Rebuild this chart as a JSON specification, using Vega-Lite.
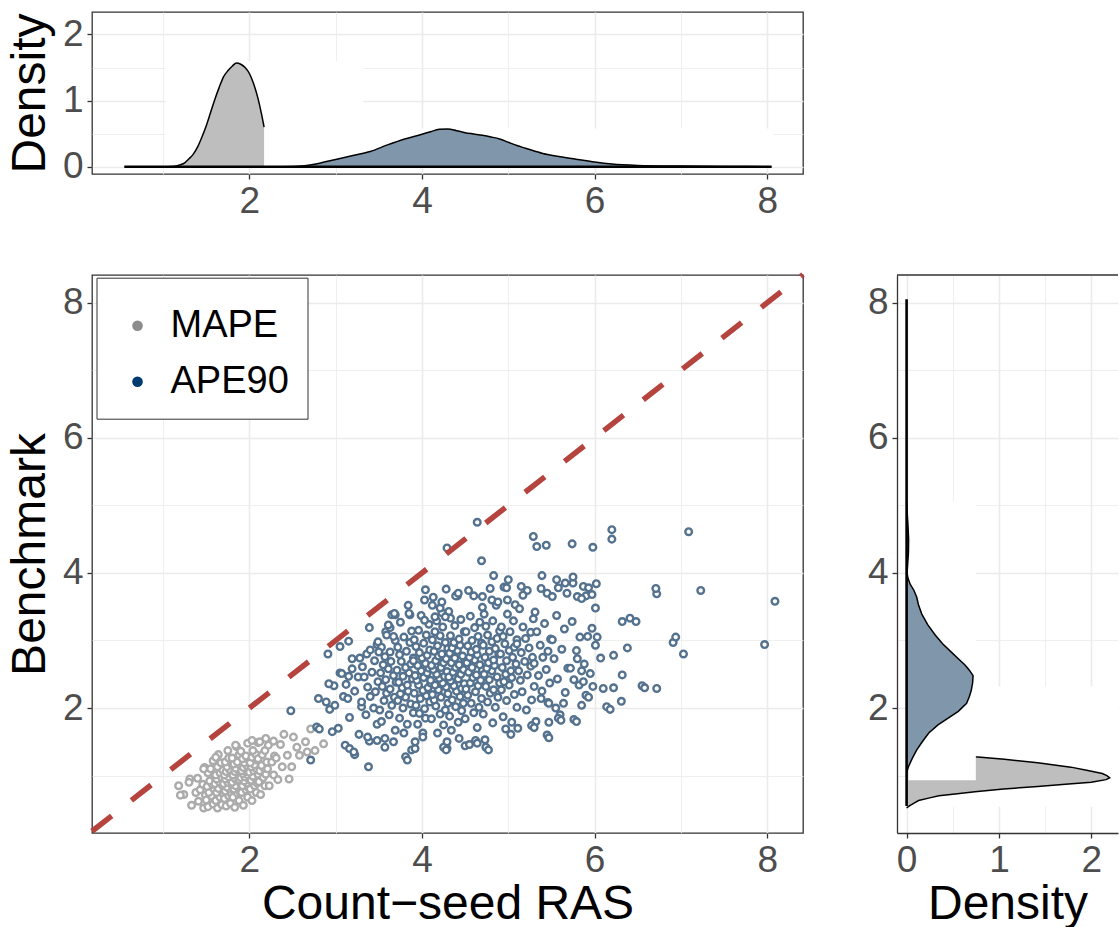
{
"$schema":"https://vega.github.io/schema/vega-lite/v6.json",
"padding":{"left":5,"top":11,"right":0,"bottom":0},
"bounds":"flush",
"columns":2,
"spacing":{"row":101,"column":94},
"resolve":{"scale":{"x":"independent","y":"independent","fill":"independent","stroke":"independent"},"legend":{"fill":"independent","stroke":"independent"}},
"config":{
 "font":"Liberation Sans",
 "view":{"stroke":"#333333","strokeWidth":1.3},
 "axis":{"domain":false,"grid":true,"gridColor":"#EBEBEB","tickColor":"#333333","tickSize":5,"tickWidth":1.3,"labelColor":"#4D4D4D","labelFont":"Liberation Sans","labelFontSize":37,"labelPadding":4,"labelFlush":false,"labelOverlap":false,"titleFont":"Liberation Sans","titleFontSize":48,"titleFontWeight":"normal","titleColor":"#000000","titlePadding":2},
 "axisY":{"titlePadding":8}
},
"datasets":{
 "topGray":[{"x":1.05,"d":0},{"x":1.1,"d":0.003},{"x":1.15,"d":0.01},{"x":1.2,"d":0.03},{"x":1.25,"d":0.06},{"x":1.3,"d":0.12},{"x":1.35,"d":0.19},{"x":1.4,"d":0.3},{"x":1.45,"d":0.45},{"x":1.5,"d":0.62},{"x":1.55,"d":0.82},{"x":1.6,"d":1.02},{"x":1.65,"d":1.2},{"x":1.7,"d":1.36},{"x":1.75,"d":1.45},{"x":1.8,"d":1.52},{"x":1.85,"d":1.57},{"x":1.9,"d":1.55},{"x":1.95,"d":1.5},{"x":2.0,"d":1.41},{"x":2.05,"d":1.25},{"x":2.1,"d":1.03},{"x":2.14,"d":0.8},{"x":2.17,"d":0.6}],
 "topBlue":[{"x":2.4,"d":0},{"x":2.6,"d":0.01},{"x":2.8,"d":0.05},{"x":3.0,"d":0.11},{"x":3.2,"d":0.17},{"x":3.4,"d":0.23},{"x":3.6,"d":0.33},{"x":3.8,"d":0.42},{"x":4.0,"d":0.49},{"x":4.1,"d":0.53},{"x":4.2,"d":0.565},{"x":4.3,"d":0.57},{"x":4.4,"d":0.545},{"x":4.5,"d":0.515},{"x":4.6,"d":0.495},{"x":4.7,"d":0.475},{"x":4.8,"d":0.45},{"x":4.9,"d":0.42},{"x":5.0,"d":0.37},{"x":5.1,"d":0.32},{"x":5.2,"d":0.28},{"x":5.4,"d":0.2},{"x":5.6,"d":0.15},{"x":5.8,"d":0.11},{"x":6.0,"d":0.07},{"x":6.2,"d":0.04},{"x":6.5,"d":0.02},{"x":7.0,"d":0.01},{"x":7.5,"d":0.005},{"x":8.05,"d":0}],
 "topRect":[{"x":1.03,"x2":3.32,"d":0.02,"d2":1.6},{"x":3.32,"x2":8.08,"d":0.02,"d2":0.58}],
 "topBase":[{"x":0.55,"x2":8.05,"d":0}],
 "rightGray":[{"y":0.52,"d":0},{"y":0.55,"d":0.03},{"y":0.6,"d":0.09},{"y":0.63,"d":0.13},{"y":0.67,"d":0.25},{"y":0.7,"d":0.35},{"y":0.73,"d":0.55},{"y":0.76,"d":0.74},{"y":0.8,"d":1.05},{"y":0.84,"d":1.42},{"y":0.87,"d":1.72},{"y":0.9,"d":2.0},{"y":0.94,"d":2.16},{"y":0.967,"d":2.2},{"y":1.0,"d":2.17},{"y":1.03,"d":2.12},{"y":1.08,"d":1.95},{"y":1.125,"d":1.78},{"y":1.19,"d":1.42},{"y":1.24,"d":1.06},{"y":1.28,"d":0.74},{"y":1.35,"d":0.45},{"y":1.45,"d":0.22},{"y":1.55,"d":0.09},{"y":1.65,"d":0.03},{"y":1.75,"d":0}],
 "rightBlue":[{"y":1.05,"d":0},{"y":1.13,"d":0.02},{"y":1.25,"d":0.06},{"y":1.38,"d":0.11},{"y":1.5,"d":0.17},{"y":1.63,"d":0.24},{"y":1.75,"d":0.34},{"y":1.85,"d":0.45},{"y":1.95,"d":0.56},{"y":2.07,"d":0.65},{"y":2.17,"d":0.68},{"y":2.26,"d":0.7},{"y":2.37,"d":0.715},{"y":2.48,"d":0.72},{"y":2.56,"d":0.68},{"y":2.64,"d":0.63},{"y":2.73,"d":0.56},{"y":2.82,"d":0.49},{"y":2.95,"d":0.39},{"y":3.08,"d":0.31},{"y":3.23,"d":0.23},{"y":3.39,"d":0.165},{"y":3.52,"d":0.13},{"y":3.64,"d":0.11},{"y":3.74,"d":0.08},{"y":3.83,"d":0.04},{"y":3.92,"d":0.015},{"y":4.0,"d":0.005},{"y":4.1,"d":0.01},{"y":4.3,"d":0.02},{"y":4.5,"d":0.022},{"y":4.7,"d":0.015},{"y":4.9,"d":0.006},{"y":5.05,"d":0}],
 "rightRectUnder":[{"d":0.02,"d2":2.29,"y":0.54,"y2":2.32},{"d":0.02,"d2":0.75,"y":2.32,"y2":5.06}],
 "rightRectOver":[{"d":0.02,"d2":0.75,"y":0.93,"y2":5.06}],
 "rightBase":[{"d":0,"y":0.55,"y2":8.05}],
 "rightTop":[{"d":-0.104,"d2":2.29,"y":8.41}],
 "diag":[{"x":0.176,"y":0.176},{"x":8.415,"y":8.415}],
 "gray":[{"x":1.24,"y":0.72},{"x":1.33,"y":0.56},{"x":1.38,"y":0.75},{"x":1.31,"y":0.95},
{"x":1.47,"y":0.52},{"x":1.41,"y":0.62},{"x":1.49,"y":0.71},{"x":1.43,"y":0.79},{"x":1.46,"y":0.87},{"x":1.40,"y":0.96},{"x":1.48,"y":1.12},
{"x":1.52,"y":0.54},{"x":1.58,"y":0.58},{"x":1.50,"y":0.64},{"x":1.56,"y":0.70},{"x":1.53,"y":0.75},{"x":1.59,"y":0.80},{"x":1.51,"y":0.84},{"x":1.57,"y":0.87},{"x":1.54,"y":0.92},{"x":1.60,"y":0.97},{"x":1.52,"y":1.04},{"x":1.55,"y":1.10},{"x":1.58,"y":1.22},
{"x":1.63,"y":0.52},{"x":1.68,"y":0.57},{"x":1.61,"y":0.63},{"x":1.66,"y":0.68},{"x":1.70,"y":0.72},{"x":1.62,"y":0.75},{"x":1.67,"y":0.79},{"x":1.64,"y":0.81},{"x":1.69,"y":0.85},{"x":1.60,"y":0.88},{"x":1.65,"y":0.91},{"x":1.62,"y":0.95},{"x":1.68,"y":0.97},{"x":1.61,"y":1.01},{"x":1.66,"y":1.04},{"x":1.69,"y":1.08},{"x":1.63,"y":1.13},{"x":1.67,"y":1.19},{"x":1.64,"y":1.31},
{"x":1.73,"y":0.55},{"x":1.78,"y":0.59},{"x":1.71,"y":0.66},{"x":1.76,"y":0.70},{"x":1.79,"y":0.73},{"x":1.72,"y":0.77},{"x":1.77,"y":0.80},{"x":1.74,"y":0.83},{"x":1.80,"y":0.85},{"x":1.70,"y":0.88},{"x":1.75,"y":0.90},{"x":1.78,"y":0.93},{"x":1.72,"y":0.95},{"x":1.76,"y":0.98},{"x":1.71,"y":1.01},{"x":1.79,"y":1.03},{"x":1.73,"y":1.06},{"x":1.77,"y":1.09},{"x":1.74,"y":1.13},{"x":1.80,"y":1.16},{"x":1.72,"y":1.20},{"x":1.76,"y":1.26},{"x":1.75,"y":1.37},
{"x":1.83,"y":0.53},{"x":1.88,"y":0.63},{"x":1.81,"y":0.68},{"x":1.86,"y":0.74},{"x":1.89,"y":0.76},{"x":1.82,"y":0.80},{"x":1.87,"y":0.83},{"x":1.84,"y":0.85},{"x":1.90,"y":0.88},{"x":1.80,"y":0.90},{"x":1.85,"y":0.93},{"x":1.88,"y":0.94},{"x":1.82,"y":0.97},{"x":1.86,"y":1.00},{"x":1.81,"y":1.01},{"x":1.89,"y":1.04},{"x":1.83,"y":1.06},{"x":1.87,"y":1.09},{"x":1.84,"y":1.11},{"x":1.90,"y":1.14},{"x":1.82,"y":1.17},{"x":1.86,"y":1.20},{"x":1.80,"y":1.26},{"x":1.88,"y":1.31},{"x":1.85,"y":1.43},
{"x":1.93,"y":0.56},{"x":1.98,"y":0.68},{"x":1.91,"y":0.75},{"x":1.96,"y":0.79},{"x":1.99,"y":0.82},{"x":1.92,"y":0.85},{"x":1.97,"y":0.89},{"x":1.94,"y":0.92},{"x":2.00,"y":0.94},{"x":1.90,"y":0.97},{"x":1.95,"y":0.98},{"x":1.98,"y":1.01},{"x":1.92,"y":1.03},{"x":1.96,"y":1.06},{"x":1.91,"y":1.07},{"x":1.99,"y":1.10},{"x":1.93,"y":1.12},{"x":1.97,"y":1.15},{"x":1.94,"y":1.19},{"x":2.00,"y":1.22},{"x":1.92,"y":1.25},{"x":1.96,"y":1.29},{"x":1.90,"y":1.36},{"x":1.98,"y":1.48},
{"x":2.03,"y":0.63},{"x":2.08,"y":0.75},{"x":2.01,"y":0.80},{"x":2.06,"y":0.85},{"x":2.09,"y":0.89},{"x":2.02,"y":0.93},{"x":2.07,"y":0.96},{"x":2.04,"y":0.99},{"x":2.10,"y":1.02},{"x":2.00,"y":1.05},{"x":2.05,"y":1.07},{"x":2.08,"y":1.10},{"x":2.02,"y":1.13},{"x":2.06,"y":1.16},{"x":2.01,"y":1.19},{"x":2.09,"y":1.23},{"x":2.03,"y":1.27},{"x":2.07,"y":1.32},{"x":2.04,"y":1.37},{"x":2.10,"y":1.49},
{"x":2.13,"y":0.72},{"x":2.18,"y":0.85},{"x":2.11,"y":0.91},{"x":2.16,"y":0.97},{"x":2.19,"y":1.02},{"x":2.12,"y":1.07},{"x":2.17,"y":1.11},{"x":2.14,"y":1.15},{"x":2.20,"y":1.20},{"x":2.10,"y":1.25},{"x":2.15,"y":1.31},{"x":2.18,"y":1.37},{"x":2.12,"y":1.50},
{"x":2.23,"y":0.85},{"x":2.28,"y":1.01},{"x":2.21,"y":1.10},{"x":2.26,"y":1.20},{"x":2.29,"y":1.29},{"x":2.22,"y":1.45},
{"x":2.33,"y":0.94},{"x":2.38,"y":1.13},{"x":2.31,"y":1.26},{"x":2.36,"y":1.46},
{"x":1.18,"y":0.85},{"x":1.20,"y":0.71},{"x":1.30,"y":0.90},{"x":1.47,"y":1.10},{"x":1.61,"y":1.27},{"x":1.84,"y":1.45},{"x":2.03,"y":1.52},{"x":2.19,"y":1.55},{"x":2.28,"y":1.51},{"x":2.40,"y":1.61},{"x":2.51,"y":1.57},{"x":2.46,"y":0.95},{"x":2.49,"y":1.13},{"x":2.58,"y":1.30},{"x":2.65,"y":1.50},{"x":2.67,"y":1.35},{"x":2.71,"y":1.69},{"x":2.76,"y":1.37},{"x":2.86,"y":1.47},{"x":2.55,"y":1.42},{"x":2.44,"y":1.30}],
 "blue":[{"x":3.03,"y":1.70},{"x":2.93,"y":1.98},{"x":3.09,"y":2.17},{"x":2.98,"y":2.33},{"x":3.05,"y":2.52},{"x":2.91,"y":2.80},
{"x":3.27,"y":1.61},{"x":3.16,"y":1.86},{"x":3.30,"y":2.02},{"x":3.14,"y":2.14},{"x":3.22,"y":2.25},{"x":3.12,"y":2.35},{"x":3.26,"y":2.46},{"x":3.19,"y":2.58},{"x":3.28,"y":2.74},{"x":3.15,"y":2.99},
{"x":3.39,"y":1.51},{"x":3.48,"y":1.76},{"x":3.35,"y":1.90},{"x":3.44,"y":2.00},{"x":3.30,"y":2.09},{"x":3.40,"y":2.17},{"x":3.46,"y":2.24},{"x":3.37,"y":2.31},{"x":3.49,"y":2.39},{"x":3.33,"y":2.46},{"x":3.42,"y":2.53},{"x":3.31,"y":2.61},{"x":3.45,"y":2.70},{"x":3.36,"y":2.80},{"x":3.48,"y":2.94},{"x":3.39,"y":3.19},
{"x":3.57,"y":1.42},{"x":3.69,"y":1.67},{"x":3.53,"y":1.80},{"x":3.62,"y":1.90},{"x":3.51,"y":1.97},{"x":3.65,"y":2.04},{"x":3.56,"y":2.11},{"x":3.68,"y":2.16},{"x":3.59,"y":2.22},{"x":3.63,"y":2.28},{"x":3.54,"y":2.32},{"x":3.70,"y":2.38},{"x":3.58,"y":2.42},{"x":3.67,"y":2.48},{"x":3.52,"y":2.52},{"x":3.61,"y":2.58},{"x":3.55,"y":2.64},{"x":3.64,"y":2.69},{"x":3.57,"y":2.76},{"x":3.63,"y":2.83},{"x":3.53,"y":2.90},{"x":3.69,"y":3.00},{"x":3.58,"y":3.13},{"x":3.65,"y":3.38},
{"x":3.88,"y":1.38},{"x":3.79,"y":1.63},{"x":3.83,"y":1.76},{"x":3.74,"y":1.85},{"x":3.90,"y":1.93},{"x":3.78,"y":2.00},{"x":3.87,"y":2.06},{"x":3.72,"y":2.11},{"x":3.81,"y":2.16},{"x":3.75,"y":2.21},{"x":3.84,"y":2.25},{"x":3.77,"y":2.30},{"x":3.83,"y":2.34},{"x":3.73,"y":2.38},{"x":3.89,"y":2.43},{"x":3.78,"y":2.47},{"x":3.85,"y":2.52},{"x":3.71,"y":2.56},{"x":3.81,"y":2.60},{"x":3.87,"y":2.65},{"x":3.76,"y":2.69},{"x":3.90,"y":2.74},{"x":3.74,"y":2.79},{"x":3.82,"y":2.84},{"x":3.72,"y":2.90},{"x":3.86,"y":2.97},{"x":3.79,"y":3.05},{"x":3.88,"y":3.14},{"x":3.75,"y":3.27},{"x":3.84,"y":3.52},
{"x":3.92,"y":1.40},{"x":4.01,"y":1.63},{"x":3.95,"y":1.76},{"x":4.04,"y":1.85},{"x":3.97,"y":1.92},{"x":4.03,"y":1.99},{"x":3.93,"y":2.04},{"x":4.09,"y":2.09},{"x":3.98,"y":2.14},{"x":4.05,"y":2.18},{"x":3.91,"y":2.22},{"x":4.01,"y":2.26},{"x":4.07,"y":2.30},{"x":3.96,"y":2.34},{"x":4.10,"y":2.37},{"x":3.94,"y":2.41},{"x":4.02,"y":2.45},{"x":3.92,"y":2.48},{"x":4.06,"y":2.52},{"x":3.99,"y":2.55},{"x":4.08,"y":2.59},{"x":3.95,"y":2.63},{"x":4.04,"y":2.66},{"x":3.90,"y":2.70},{"x":4.00,"y":2.74},{"x":4.06,"y":2.78},{"x":3.97,"y":2.82},{"x":4.09,"y":2.86},{"x":3.93,"y":2.91},{"x":4.02,"y":2.96},{"x":3.91,"y":3.01},{"x":4.05,"y":3.08},{"x":3.96,"y":3.15},{"x":4.08,"y":3.24},{"x":3.99,"y":3.37},{"x":4.03,"y":3.60},
{"x":4.29,"y":1.40},{"x":4.18,"y":1.63},{"x":4.25,"y":1.75},{"x":4.11,"y":1.84},{"x":4.21,"y":1.91},{"x":4.27,"y":1.97},{"x":4.16,"y":2.03},{"x":4.30,"y":2.07},{"x":4.14,"y":2.12},{"x":4.22,"y":2.16},{"x":4.12,"y":2.20},{"x":4.26,"y":2.24},{"x":4.19,"y":2.27},{"x":4.28,"y":2.31},{"x":4.15,"y":2.34},{"x":4.24,"y":2.37},{"x":4.10,"y":2.41},{"x":4.20,"y":2.44},{"x":4.26,"y":2.47},{"x":4.17,"y":2.50},{"x":4.29,"y":2.54},{"x":4.13,"y":2.57},{"x":4.22,"y":2.60},{"x":4.11,"y":2.63},{"x":4.25,"y":2.67},{"x":4.16,"y":2.70},{"x":4.28,"y":2.73},{"x":4.19,"y":2.77},{"x":4.23,"y":2.80},{"x":4.14,"y":2.84},{"x":4.30,"y":2.88},{"x":4.18,"y":2.92},{"x":4.27,"y":2.97},{"x":4.12,"y":3.01},{"x":4.21,"y":3.07},{"x":4.15,"y":3.13},{"x":4.24,"y":3.20},{"x":4.17,"y":3.29},{"x":4.23,"y":3.41},{"x":4.13,"y":3.64},
{"x":4.50,"y":1.44},{"x":4.34,"y":1.67},{"x":4.42,"y":1.79},{"x":4.32,"y":1.88},{"x":4.46,"y":1.96},{"x":4.39,"y":2.02},{"x":4.48,"y":2.07},{"x":4.35,"y":2.12},{"x":4.44,"y":2.17},{"x":4.30,"y":2.21},{"x":4.40,"y":2.25},{"x":4.46,"y":2.29},{"x":4.37,"y":2.33},{"x":4.49,"y":2.36},{"x":4.33,"y":2.40},{"x":4.42,"y":2.43},{"x":4.31,"y":2.46},{"x":4.45,"y":2.50},{"x":4.36,"y":2.53},{"x":4.48,"y":2.57},{"x":4.39,"y":2.60},{"x":4.43,"y":2.64},{"x":4.34,"y":2.67},{"x":4.50,"y":2.70},{"x":4.38,"y":2.74},{"x":4.47,"y":2.77},{"x":4.32,"y":2.81},{"x":4.41,"y":2.85},{"x":4.35,"y":2.89},{"x":4.44,"y":2.93},{"x":4.37,"y":2.97},{"x":4.43,"y":3.02},{"x":4.33,"y":3.07},{"x":4.49,"y":3.13},{"x":4.38,"y":3.22},{"x":4.45,"y":3.31},{"x":4.31,"y":3.43},{"x":4.41,"y":3.66},
{"x":4.55,"y":1.46},{"x":4.64,"y":1.71},{"x":4.50,"y":1.84},{"x":4.60,"y":1.93},{"x":4.66,"y":2.01},{"x":4.57,"y":2.07},{"x":4.69,"y":2.14},{"x":4.53,"y":2.19},{"x":4.62,"y":2.24},{"x":4.51,"y":2.28},{"x":4.65,"y":2.33},{"x":4.56,"y":2.37},{"x":4.68,"y":2.41},{"x":4.59,"y":2.45},{"x":4.63,"y":2.49},{"x":4.54,"y":2.53},{"x":4.70,"y":2.56},{"x":4.58,"y":2.60},{"x":4.67,"y":2.64},{"x":4.52,"y":2.67},{"x":4.61,"y":2.71},{"x":4.55,"y":2.75},{"x":4.64,"y":2.79},{"x":4.57,"y":2.83},{"x":4.63,"y":2.87},{"x":4.53,"y":2.92},{"x":4.69,"y":2.96},{"x":4.58,"y":3.00},{"x":4.65,"y":3.06},{"x":4.51,"y":3.13},{"x":4.61,"y":3.19},{"x":4.67,"y":3.27},{"x":4.56,"y":3.36},{"x":4.70,"y":3.49},{"x":4.54,"y":3.74},
{"x":4.73,"y":1.53},{"x":4.82,"y":1.78},{"x":4.71,"y":1.91},{"x":4.85,"y":2.01},{"x":4.76,"y":2.09},{"x":4.88,"y":2.16},{"x":4.79,"y":2.22},{"x":4.83,"y":2.27},{"x":4.74,"y":2.32},{"x":4.90,"y":2.37},{"x":4.78,"y":2.42},{"x":4.87,"y":2.46},{"x":4.72,"y":2.50},{"x":4.81,"y":2.55},{"x":4.75,"y":2.59},{"x":4.84,"y":2.63},{"x":4.77,"y":2.67},{"x":4.83,"y":2.71},{"x":4.73,"y":2.75},{"x":4.89,"y":2.80},{"x":4.78,"y":2.84},{"x":4.85,"y":2.88},{"x":4.71,"y":2.93},{"x":4.81,"y":2.98},{"x":4.87,"y":3.03},{"x":4.76,"y":3.08},{"x":4.90,"y":3.14},{"x":4.74,"y":3.21},{"x":4.82,"y":3.29},{"x":4.72,"y":3.39},{"x":4.86,"y":3.52},{"x":4.79,"y":3.77},
{"x":5.03,"y":1.61},{"x":4.94,"y":1.87},{"x":5.10,"y":2.01},{"x":4.98,"y":2.11},{"x":5.07,"y":2.20},{"x":4.92,"y":2.27},{"x":5.01,"y":2.34},{"x":4.95,"y":2.39},{"x":5.04,"y":2.45},{"x":4.97,"y":2.50},{"x":5.03,"y":2.55},{"x":4.93,"y":2.60},{"x":5.09,"y":2.65},{"x":4.98,"y":2.70},{"x":5.05,"y":2.75},{"x":4.91,"y":2.80},{"x":5.01,"y":2.85},{"x":5.07,"y":2.90},{"x":4.96,"y":2.95},{"x":5.10,"y":3.01},{"x":4.94,"y":3.06},{"x":5.02,"y":3.13},{"x":4.92,"y":3.20},{"x":5.06,"y":3.29},{"x":4.99,"y":3.39},{"x":5.08,"y":3.53},{"x":4.95,"y":3.79},
{"x":5.11,"y":1.70},{"x":5.21,"y":1.97},{"x":5.27,"y":2.12},{"x":5.16,"y":2.24},{"x":5.30,"y":2.32},{"x":5.14,"y":2.41},{"x":5.22,"y":2.49},{"x":5.12,"y":2.55},{"x":5.26,"y":2.62},{"x":5.19,"y":2.69},{"x":5.28,"y":2.75},{"x":5.15,"y":2.82},{"x":5.24,"y":2.89},{"x":5.10,"y":2.95},{"x":5.20,"y":3.03},{"x":5.26,"y":3.12},{"x":5.17,"y":3.20},{"x":5.29,"y":3.32},{"x":5.13,"y":3.47},{"x":5.22,"y":3.74},
{"x":5.32,"y":1.80},{"x":5.46,"y":2.08},{"x":5.39,"y":2.25},{"x":5.48,"y":2.37},{"x":5.35,"y":2.48},{"x":5.44,"y":2.57},{"x":5.30,"y":2.66},{"x":5.40,"y":2.75},{"x":5.46,"y":2.84},{"x":5.37,"y":2.93},{"x":5.49,"y":3.02},{"x":5.33,"y":3.13},{"x":5.42,"y":3.25},{"x":5.31,"y":3.42},{"x":5.45,"y":3.70},
{"x":5.60,"y":1.90},{"x":5.66,"y":2.23},{"x":5.57,"y":2.43},{"x":5.69,"y":2.59},{"x":5.53,"y":2.73},{"x":5.62,"y":2.87},{"x":5.51,"y":3.01},{"x":5.65,"y":3.17},{"x":5.56,"y":3.37},{"x":5.68,"y":3.70},
{"x":5.85,"y":2.04},{"x":5.76,"y":2.42},{"x":5.88,"y":2.65},{"x":5.79,"y":2.85},{"x":5.83,"y":3.05},{"x":5.74,"y":3.28},{"x":5.90,"y":3.66},
{"x":5.98,"y":2.32},{"x":6.07,"y":2.74},{"x":5.92,"y":3.06},{"x":6.01,"y":3.48},
{"x":2.48,"y":1.96},{"x":2.71,"y":1.23},{"x":2.78,"y":1.72},{"x":2.81,"y":1.69},{"x":2.96,"y":1.65},{"x":3.11,"y":1.45},{"x":2.80,"y":2.14},{"x":2.89,"y":2.09},{"x":2.99,"y":2.04},{"x":2.92,"y":2.36},{"x":3.05,"y":2.91},{"x":3.19,"y":2.73},{"x":3.07,"y":2.51},{"x":3.15,"y":2.47},{"x":3.16,"y":1.40},{"x":3.22,"y":1.31},{"x":3.38,"y":1.13},{"x":3.21,"y":1.35},{"x":3.37,"y":1.57},{"x":3.48,"y":1.52},{"x":3.57,"y":1.55},{"x":3.67,"y":1.50},{"x":3.81,"y":1.28},{"x":3.83,"y":1.23},{"x":3.92,"y":1.50},{"x":4.01,"y":1.57},{"x":4.25,"y":1.42},{"x":4.28,"y":1.38},{"x":4.29,"y":1.50},{"x":4.43,"y":1.55},{"x":4.62,"y":1.52},{"x":4.64,"y":1.48},{"x":4.74,"y":1.42},{"x":4.77,"y":1.38},{"x":4.97,"y":1.69},{"x":5.04,"y":1.79},{"x":5.27,"y":1.74},{"x":5.30,"y":1.71},{"x":5.45,"y":1.60},{"x":5.47,"y":1.56},{"x":5.47,"y":1.79},{"x":5.58,"y":1.85},{"x":5.61,"y":1.82},{"x":5.76,"y":1.83},{"x":5.79,"y":1.80},{"x":5.38,"y":2.14},{"x":5.47,"y":2.07},{"x":5.55,"y":2.00},{"x":5.64,"y":2.07},{"x":5.82,"y":2.34},{"x":5.87,"y":2.39},{"x":5.90,"y":2.19},{"x":5.93,"y":2.16},{"x":5.95,"y":2.51},{"x":5.72,"y":2.59},{"x":5.80,"y":2.73},{"x":5.85,"y":2.55},{"x":6.01,"y":2.93},{"x":6.03,"y":3.05},{"x":5.97,"y":3.18},
{"x":3.63,"y":3.19},{"x":3.69,"y":3.38},{"x":3.86,"y":3.38},{"x":4.04,"y":3.75},{"x":4.28,"y":3.76},{"x":4.39,"y":3.66},{"x":4.42,"y":3.70},{"x":4.60,"y":3.66},{"x":4.70,"y":3.65},{"x":4.81,"y":3.60},{"x":4.88,"y":3.57},{"x":4.99,"y":3.60},{"x":5.17,"y":3.67},{"x":5.38,"y":3.77},{"x":5.51,"y":3.65},{"x":5.58,"y":3.78},{"x":5.80,"y":3.65},{"x":5.85,"y":3.62},{"x":5.97,"y":3.68},{"x":4.83,"y":3.96},{"x":5.00,"y":3.90},{"x":4.98,"y":3.78},{"x":5.15,"y":3.80},{"x":5.39,"y":3.96},{"x":5.56,"y":3.90},{"x":5.66,"y":3.85},{"x":5.75,"y":3.85},{"x":5.75,"y":3.94},{"x":5.87,"y":3.80},{"x":5.93,"y":3.78},{"x":6.02,"y":3.84},
{"x":4.12,"y":3.52},{"x":4.21,"y":3.48},{"x":4.23,"y":3.57},{"x":4.33,"y":3.33},{"x":4.27,"y":3.35},{"x":4.15,"y":3.35},{"x":3.85,"y":3.40},{"x":3.68,"y":3.40},{"x":4.03,"y":3.30},{"x":3.61,"y":3.23},{"x":3.59,"y":3.08},{"x":3.67,"y":3.06},{"x":3.49,"y":2.98},{"x":3.40,"y":2.86},{"x":3.50,"y":2.83},
{"x":4.64,"y":4.75},{"x":4.29,"y":4.37},{"x":5.29,"y":4.54},{"x":5.33,"y":4.39},{"x":5.44,"y":4.41},{"x":5.74,"y":4.43},{"x":5.98,"y":4.38},{"x":6.20,"y":4.64},{"x":6.20,"y":4.50},{"x":4.69,"y":4.18},{"x":7.09,"y":4.61},
{"x":6.72,"y":3.69},{"x":6.71,"y":3.77},{"x":7.23,"y":3.74},{"x":8.09,"y":3.58},{"x":7.97,"y":2.94},{"x":6.91,"y":2.97},{"x":6.94,"y":3.05},{"x":7.03,"y":2.80},{"x":6.32,"y":3.28},{"x":6.41,"y":3.33},{"x":6.48,"y":3.28},{"x":6.22,"y":2.78},{"x":6.38,"y":2.89},{"x":6.32,"y":2.49},{"x":6.55,"y":2.33},{"x":6.10,"y":2.29},{"x":6.22,"y":2.30},{"x":6.31,"y":2.10},{"x":6.14,"y":2.02},{"x":6.72,"y":2.29},{"x":6.58,"y":2.30},{"x":6.18,"y":1.98}]
},
"concat":[
 {
  "width":711,"height":162,
  "encoding":{
   "x":{"field":"x","type":"quantitative","scale":{"domain":[0.176,8.415],"nice":false,"zero":false},"axis":{"values":[1,2,3,4,5,6,7,8],"labelExpr":"datum.value % 2 == 0 ? format(datum.value, 'd') : ''","tickOpacity":{"condition":{"test":"datum.value % 2 != 0","value":0},"value":1},"gridWidth":{"condition":{"test":"datum.value % 2 != 0","value":0.8},"value":1.6},"title":null}},
   "y":{"field":"d","type":"quantitative","scale":{"domain":[-0.11,2.34],"nice":false,"zero":false},"axis":{"values":[0,0.5,1,1.5,2],"labelExpr":"datum.value % 1 == 0 ? format(datum.value, 'd') : ''","tickOpacity":{"condition":{"test":"datum.value % 1 != 0","value":0},"value":1},"gridWidth":{"condition":{"test":"datum.value % 1 != 0","value":0.8},"value":1.6},"title":"Density"}}
  },
  "layer":[
   {"data":{"name":"topRect"},"mark":{"type":"rect","color":"white"},"encoding":{"x2":{"field":"x2"},"y2":{"field":"d2"}}},
   {"data":{"name":"topGray"},"mark":{"type":"area","color":"#BEBEBE","opacity":1,"interpolate":"monotone","line":{"color":"black","strokeWidth":1.5}},"encoding":{"y2":{"datum":0}}},
   {"data":{"name":"topBlue"},"mark":{"type":"area","color":"#8097AB","opacity":1,"interpolate":"monotone","line":{"color":"black","strokeWidth":1.5}},"encoding":{"y2":{"datum":0}}},
   {"data":{"name":"topBase"},"mark":{"type":"rule","color":"black","strokeWidth":2.6},"encoding":{"x2":{"field":"x2"}}}
  ]
 },
 {
  "width":221,"height":162,
  "data":{"values":[]},
  "mark":"point",
  "encoding":{},
  "view":{"stroke":null}
 },
 {
  "width":711,"height":558,
  "encoding":{
   "x":{"field":"x","type":"quantitative","scale":{"domain":[0.176,8.415],"nice":false,"zero":false},"axis":{"values":[1,2,3,4,5,6,7,8],"labelExpr":"datum.value % 2 == 0 ? format(datum.value, 'd') : ''","tickOpacity":{"condition":{"test":"datum.value % 2 != 0","value":0},"value":1},"gridWidth":{"condition":{"test":"datum.value % 2 != 0","value":0.8},"value":1.6},"title":"Count−seed RAS"}},
   "y":{"field":"y","type":"quantitative","scale":{"domain":[0.15,8.41],"nice":false,"zero":false},"axis":{"values":[1,2,3,4,5,6,7,8],"labelExpr":"datum.value % 2 == 0 ? format(datum.value, 'd') : ''","tickOpacity":{"condition":{"test":"datum.value % 2 != 0","value":0},"value":1},"gridWidth":{"condition":{"test":"datum.value % 2 != 0","value":0.8},"value":1.6},"title":"Benchmark"}}
  },
  "layer":[
   {"data":{"values":[]},"mark":{"type":"point","shape":"circle","filled":true,"opacity":1,"strokeWidth":0,"size":113},
    "encoding":{"fill":{"datum":"MAPE","scale":{"domain":["MAPE","APE90"],"range":["#8C8C8C","#003B6F"]},
     "legend":{"orient":"none","legendX":4.5,"legendY":2.7,"title":" ","titleFontSize":4,"titlePadding":7,"padding":18,"symbolOffset":4,"labelOffset":14,"rowPadding":18,"symbolType":"circle","symbolSize":113,"symbolStrokeWidth":0,"labelFont":"Liberation Sans","labelFontSize":38,"labelColor":"#000000","strokeColor":"#333333","fillColor":"white"}}}},
   {"data":{"name":"gray"},"mark":{"type":"point","shape":"circle","filled":true,"fill":"white","fillOpacity":1,"opacity":1,"size":44,"strokeWidth":2.4},
    "encoding":{"stroke":{"datum":"MAPE","scale":{"domain":["MAPE","APE90"],"range":["#ABABAB","#54728E"]},"legend":null}}},
   {"data":{"name":"blue"},"mark":{"type":"point","shape":"circle","filled":true,"fill":"white","fillOpacity":1,"opacity":1,"size":44,"strokeWidth":2.4},
    "encoding":{"stroke":{"datum":"APE90","scale":{"domain":["MAPE","APE90"],"range":["#ABABAB","#54728E"]},"legend":null}}},
   {"data":{"name":"diag"},"mark":{"type":"line","color":"#B5443F","strokeWidth":5.5,"strokeDash":[25,25]},"encoding":{}}
  ]
 },
 {
  "width":221,"height":558,
  "view":{"stroke":null},
  "encoding":{
   "x":{"field":"d","type":"quantitative","scale":{"domain":[-0.104,2.29],"nice":false,"zero":false},"axis":{"values":[0,0.5,1,1.5,2],"labelExpr":"datum.value % 1 == 0 ? format(datum.value, 'd') : ''","tickOpacity":{"condition":{"test":"datum.value % 1 != 0","value":0},"value":1},"gridWidth":{"condition":{"test":"datum.value % 1 != 0","value":0.8},"value":1.6},"title":"Density","domain":true,"domainColor":"#333333","domainWidth":1.3}},
   "y":{"field":"y","type":"quantitative","scale":{"domain":[0.15,8.41],"nice":false,"zero":false},"axis":{"values":[1,2,3,4,5,6,7,8],"labelExpr":"datum.value % 2 == 0 ? format(datum.value, 'd') : ''","tickOpacity":{"condition":{"test":"datum.value % 2 != 0","value":0},"value":1},"gridWidth":{"condition":{"test":"datum.value % 2 != 0","value":0.8},"value":1.6},"title":null,"domain":true,"domainColor":"#333333","domainWidth":1.3}}
  },
  "layer":[
   {"data":{"name":"rightRectUnder"},"mark":{"type":"rect","color":"white"},"encoding":{"x2":{"field":"d2"},"y2":{"field":"y2"}}},
   {"data":{"name":"rightGray"},"mark":{"type":"area","orient":"horizontal","color":"#BEBEBE","opacity":1,"interpolate":"linear"},"encoding":{}},
   {"data":{"name":"rightGray"},"mark":{"type":"line","color":"black","strokeWidth":1.5},"encoding":{"order":{"field":"y","type":"quantitative"}}},
   {"data":{"name":"rightRectOver"},"mark":{"type":"rect","color":"white"},"encoding":{"x2":{"field":"d2"},"y2":{"field":"y2"}}},
   {"data":{"name":"rightBlue"},"mark":{"type":"area","orient":"horizontal","color":"#8097AB","opacity":1,"interpolate":"linear"},"encoding":{}},
   {"data":{"name":"rightBlue"},"mark":{"type":"line","color":"black","strokeWidth":1.5},"encoding":{"order":{"field":"y","type":"quantitative"}}},
   {"data":{"name":"rightBase"},"mark":{"type":"rule","color":"black","strokeWidth":2.6},"encoding":{"y2":{"field":"y2"}}},
   {"data":{"name":"rightTop"},"mark":{"type":"rule","color":"#333333","strokeWidth":1.3},"encoding":{"x2":{"field":"d2"}}}
  ]
 }
]
}
